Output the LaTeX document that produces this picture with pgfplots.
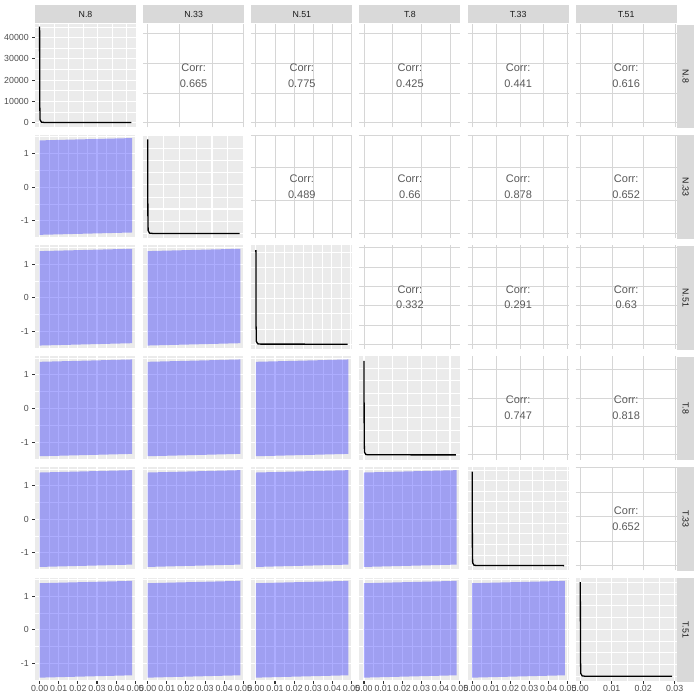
\documentclass[border=0pt]{standalone}
\usepackage{pgfplots}
\pgfplotsset{compat=1.18}
\usepackage{fontspec}
\setmainfont{Liberation Sans}
\definecolor{bg}{HTML}{EBEBEB}
\definecolor{stripc}{HTML}{D9D9D9}
\definecolor{ugrid}{HTML}{D6D6D6}
\definecolor{tickc}{HTML}{333333}
\definecolor{labc}{HTML}{4D4D4D}
\definecolor{corc}{HTML}{595959}
\definecolor{stext}{HTML}{1A1A1A}
\tikzset{
  stripT/.style={anchor=south, yshift=0.6pt, fill=stripc, minimum width=101pt, minimum height=18pt, inner sep=0pt, text=stext, font=\fontsize{8.8}{10}\selectfont},
  stripR/.style={rotate=-90, anchor=south, xshift=0.6pt, fill=stripc, minimum width=103.5pt, minimum height=17.5pt, inner sep=0pt, text=stext, font=\fontsize{8.8}{10}\selectfont},
  corr/.style={font=\fontsize{11}{15.7}\selectfont, text=corc, align=center}
}
\pgfplotsset{
  base/.style={anchor=north west, width=101pt, height=103.5pt, scale only axis,
    axis line style={draw=none}, clip=false, scaled ticks=false,
    xticklabels={}, yticklabels={},
    xtick style={draw=none}, ytick style={draw=none},
    major tick length=2.75pt, minor tick length=0pt, tick align=outside,
    minor tick style={draw=none},
    xtick pos=left, ytick pos=left,
    tick label style={font=\fontsize{8.8}{10}\selectfont, text=labc},
    xticklabel style={inner sep=1.5pt},
    major grid style={white, line width=1.07pt},
    minor grid style={white, line width=0.53pt}},
  lower/.style={base, axis background/.style={fill=bg},
    xmin=-0.0024, xmax=0.0504, ymin=-1.52, ymax=1.56,
    xtick={0,0.01,0.02,0.03,0.04,0.05}, minor xtick={0.005,0.015,0.025,0.035,0.045},
    ytick={-1,0,1}, minor ytick={-1.5,-0.5,0.5,1.5}, grid=both},
  diag/.style={base, axis background/.style={fill=bg},
    xmin=-0.05, xmax=1.05, ymin=-0.05, ymax=1.05, grid=both},
  upper/.style={base, xmin=-0.05, xmax=1.05, ymin=-0.05, ymax=1.05,
    grid=major, major grid style={ugrid, line width=0.8pt}},
  showx/.style={xticklabels={0.00,0.01,0.02,0.03,0.04,0.05}, xtick style={draw=tickc, line width=1.07pt}},
  showy/.style={yticklabels={-1,0,1}, ytick style={draw=tickc, line width=1.07pt}},
  stripTop/.style={after end axis/.append code={\node[stripT] at (rel axis cs:0.5,1) {#1};}},
  stripRight/.style={after end axis/.append code={\node[stripR] at (rel axis cs:1,0.5) {#1};}},
  uc2/.style={xtick={0,0.35,0.70,1.04}},
  uc3/.style={xtick={0,0.207,0.414,0.621,0.828,1.035}},
  uc4/.style={xtick={0,0.313,0.629,0.937}},
  uc5/.style={xtick={0,0.26,0.52,0.78,1.04}},
  uc6/.style={xtick={0,0.345,0.69,1.035}},
  ur1/.style={ytick={0,0.316,0.632,0.948}},
  ur2/.style={ytick={0,0.35,0.70,1.045}},
  ur3/.style={ytick={0,0.205,0.41,0.615,0.82,1.03}},
  ur4/.style={ytick={0,0.302,0.604,0.906}},
  ur5/.style={ytick={0,0.26,0.52,0.78,1.04}},
  dc1/.style={xtick={0,0.316,0.632,0.948}, minor xtick={0.158,0.474,0.79}},
  dc2/.style={xtick={0,0.35,0.70,1.04}, minor xtick={0.175,0.525,0.87}},
  dc3/.style={xtick={0,0.207,0.414,0.621,0.828,1.035}, minor xtick={0.1035,0.3105,0.5175,0.7245,0.9315}},
  dc4/.style={xtick={0,0.313,0.629,0.937}, minor xtick={0.1565,0.471,0.783}},
  dc5/.style={xtick={0,0.26,0.52,0.78,1.04}, minor xtick={0.13,0.39,0.65,0.91}},
  dr2/.style={ytick={0,0.26,0.52,0.78,1.04}, minor ytick={0.13,0.39,0.65,0.91}},
  dr3/.style={ytick={0,0.325,0.65,0.975}, minor ytick={0.1625,0.4875,0.8125}},
  dr4/.style={ytick={0,0.2635,0.527,0.7905}, minor ytick={0.13175,0.39525,0.65875,0.92225}},
  dr5/.style={ytick={0,0.226,0.452,0.678,0.904}, minor ytick={0.113,0.339,0.565,0.791,1.017}},
  dr6/.style={ytick={0,0.25,0.5,0.75,1.0}, minor ytick={0.125,0.375,0.625,0.875}}
}
\newcommand\lowerP[3][]{%
\begin{axis}[lower, at={(#2pt,-#3pt)}, #1]
\addplot[fill=blue, fill opacity=0.32, draw=none] coordinates {(0,-1.42) (0.0484,-1.35) (0.0484,1.46) (0,1.39)} -- cycle;
\end{axis}}
\newcommand\upperP[4][]{%
\begin{axis}[upper, at={(#2pt,-#3pt)}, #1]
\addplot[draw=none, forget plot] coordinates {(0.5,0.5)};
\node[corr] at (rel axis cs:0.5,0.5) {Corr:\\#4};
\end{axis}}
\newcommand\diagP[3][]{%
\begin{axis}[diag, at={(#2pt,-#3pt)}, #1]
\addplot[black, line width=1.3pt] coordinates {(0,1.0) (0.002,0.2) (0.005,0.03) (0.02,0.004) (0.05,0.001) (1,0)};
\end{axis}}
\begin{document}
\begin{tikzpicture}
\useasboundingbox (0,0) rectangle (700pt,-700pt);
% ---------- row 1
\begin{axis}[diag, dc1, at={(35pt,-24pt)}, ymin=-2344, ymax=46420,
  ytick={0,10000,20000,30000,40000}, minor ytick={5000,15000,25000,35000,45000},
  yticklabels={0,10000,20000,30000,40000}, ytick style={draw=tickc, line width=1.07pt}, stripTop=N.8]
\addplot[black, line width=1.3pt] coordinates {(0,45200) (0.002,9000) (0.005,1300) (0.02,180) (0.05,40) (1,0)};
\end{axis}
\upperP[uc2,ur1,stripTop=N.33]{143.1}{24}{0.665}
\upperP[uc3,ur1,stripTop=N.51]{251.3}{24}{0.775}
\upperP[uc4,ur1,stripTop=T.8]{359.4}{24}{0.425}
\upperP[uc5,ur1,stripTop=T.33]{467.6}{24}{0.441}
\upperP[uc6,ur1,stripTop=T.51,stripRight=N.8]{575.7}{24}{0.616}
% ---------- row 2
\lowerP[showy]{35}{134.7}
\diagP[dc2,dr2]{143.1}{134.7}
\upperP[uc3,ur2]{251.3}{134.7}{0.489}
\upperP[uc4,ur2]{359.4}{134.7}{0.66}
\upperP[uc5,ur2]{467.6}{134.7}{0.878}
\upperP[uc6,ur2,stripRight=N.33]{575.7}{134.7}{0.652}
% ---------- row 3
\lowerP[showy]{35}{245.4}
\lowerP{143.1}{245.4}
\diagP[dc3,dr3]{251.3}{245.4}
\upperP[uc4,ur3]{359.4}{245.4}{0.332}
\upperP[uc5,ur3]{467.6}{245.4}{0.291}
\upperP[uc6,ur3,stripRight=N.51]{575.7}{245.4}{0.63}
% ---------- row 4
\lowerP[showy]{35}{356.1}
\lowerP{143.1}{356.1}
\lowerP{251.3}{356.1}
\diagP[dc4,dr4]{359.4}{356.1}
\upperP[uc5,ur4]{467.6}{356.1}{0.747}
\upperP[uc6,ur4,stripRight=T.8]{575.7}{356.1}{0.818}
% ---------- row 5
\lowerP[showy]{35}{466.8}
\lowerP{143.1}{466.8}
\lowerP{251.3}{466.8}
\lowerP{359.4}{466.8}
\diagP[dc5,dr5]{467.6}{466.8}
\upperP[uc6,ur5,stripRight=T.33]{575.7}{466.8}{0.652}
% ---------- row 6
\lowerP[showy,showx]{35}{577.5}
\lowerP[showx]{143.1}{577.5}
\lowerP[showx]{251.3}{577.5}
\lowerP[showx]{359.4}{577.5}
\lowerP[showx]{467.6}{577.5}
\begin{axis}[diag, dr6, at={(575.7pt,-577.5pt)}, xmin=-0.00146, xmax=0.03066,
  xtick={0,0.01,0.02,0.03}, minor xtick={0.005,0.015,0.025},
  xticklabels={0.00,0.01,0.02,0.03}, xtick style={draw=tickc, line width=1.07pt}, stripRight=T.51]
\addplot[black, line width=1.3pt] coordinates {(0,1.0) (0.00006,0.2) (0.00015,0.03) (0.0006,0.004) (0.0015,0.001) (0.0292,0)};
\end{axis}
\end{tikzpicture}
\end{document}
